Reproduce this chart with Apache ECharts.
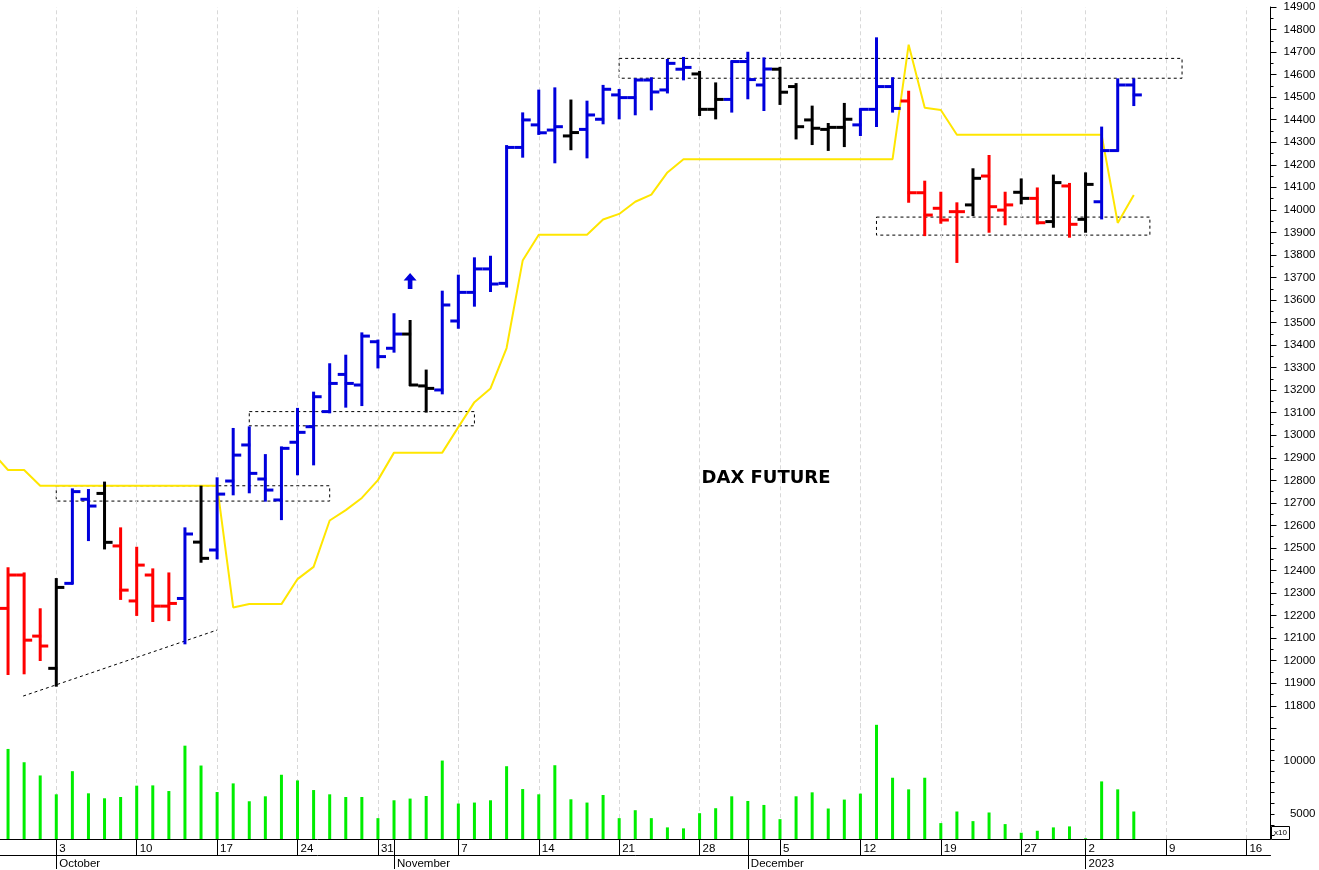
<!DOCTYPE html>
<html><head><meta charset="utf-8">
<script src="https://cdn.jsdelivr.net/npm/echarts@6/dist/echarts.min.js"></script>
<style>html,body{margin:0;padding:0;background:#fff;}#c{width:1319px;height:870px;}</style>
</head><body><div id="c"></div>
<script>
const dates = [
'2022-09-28','2022-09-29','2022-09-30',
'2022-10-03','2022-10-04','2022-10-05','2022-10-06','2022-10-07',
'2022-10-10','2022-10-11','2022-10-12','2022-10-13','2022-10-14',
'2022-10-17','2022-10-18','2022-10-19','2022-10-20','2022-10-21',
'2022-10-24','2022-10-25','2022-10-26','2022-10-27','2022-10-28',
'2022-10-31','2022-11-01','2022-11-02','2022-11-03','2022-11-04',
'2022-11-07','2022-11-08','2022-11-09','2022-11-10','2022-11-11',
'2022-11-14','2022-11-15','2022-11-16','2022-11-17','2022-11-18',
'2022-11-21','2022-11-22','2022-11-23','2022-11-24','2022-11-25',
'2022-11-28','2022-11-29','2022-11-30','2022-12-01','2022-12-02',
'2022-12-05','2022-12-06','2022-12-07','2022-12-08','2022-12-09',
'2022-12-12','2022-12-13','2022-12-14','2022-12-15','2022-12-16',
'2022-12-19','2022-12-20','2022-12-21','2022-12-22','2022-12-23',
'2022-12-27','2022-12-28','2022-12-29','2022-12-30',
'2023-01-02','2023-01-03','2023-01-04','2023-01-05','2023-01-06',
'2023-01-09','2023-01-10','2023-01-11','2023-01-12','2023-01-13',
'2023-01-16','2023-01-17'];

const opens  = [12232,12380,12109,11966,12343,12716,12742,12509,12265,12380,12242,12276,12526,12491,12797,12957,12806,12713,12969,13038,13105,13270,13223,13415,13386,13449,13219,13201,13507,13634,13738,13674,14277,14377,14354,14328,14357,14402,14510,14498,14576,14532,14624,14603,14446,14490,14658,14554,14624,14547,14399,14357,14366,14377,14446,14547,14483,14076,14007,13992,14022,14150,13999,14078,14051,13948,14106,13958,14036,14263,14554];
const highs  = [12410,12387,12228,12362,12760,12757,12790,12587,12501,12405,12387,12587,12772,12809,13028,13035,12912,12946,13117,13189,13315,13353,13452,13420,13537,13507,13287,13637,13708,13785,13792,14283,14428,14529,14539,14485,14480,14550,14532,14579,14584,14665,14674,14612,14561,14658,14697,14672,14630,14558,14458,14381,14470,14446,14761,14584,14524,14125,14076,14029,14180,14239,14076,14135,14095,14152,14115,14162,14365,14579,14579];
const lows   = [11941,11944,12003,11889,12343,12535,12498,12274,12203,12176,12180,12077,12439,12454,12738,12747,12710,12628,12827,12871,13102,13127,13134,13301,13371,13223,13105,13186,13477,13575,13640,13660,14236,14337,14211,14269,14233,14384,14406,14424,14446,14521,14579,14421,14406,14436,14495,14443,14470,14317,14292,14266,14283,14332,14372,14436,14036,13888,13943,13769,13977,13903,13936,14029,13940,13925,13881,13903,13962,14263,14465];
const closes = [12380,12091,12065,12325,12750,12686,12525,12313,12424,12242,12254,12562,12454,12739,12912,12831,12757,12942,13013,13171,13230,13230,13440,13349,13449,13223,13208,13578,13634,13738,13671,14277,14399,14342,14369,14343,14421,14535,14498,14576,14523,14650,14632,14446,14490,14658,14578,14625,14522,14369,14362,14366,14402,14446,14547,14450,14076,13977,13955,13992,14140,14014,14022,14051,13943,14121,13936,14113,14263,14554,14510];
const barColors = ['r','r','r','k','b','b','k','r','r','r','r','b','k','b','b','b','b','b','b','b','b','b','b','b','b','k','k','b','b','b','b','b','b','b','b','k','b','b','b','b','b','b','b','k','k','b','b','b','k','k','k','k','k','b','b','b','r','r','r','r','k','r','r','k','r','k','r','k','b','b','b'];
const volumes = [11084,9843,8611,6852,9010,6945,6482,6602,7658,7685,7158,11389,9537,7065,7871,6204,6667,8676,8148,7250,6852,6602,6602,4630,6296,6454,6695,10000,5991,6083,6296,9473,7343,6852,9565,6389,6083,6787,4630,5370,4630,3768,3676,5093,5556,6667,6232,5861,4537,6667,7037,5528,6361,6917,13334,8398,7315,8398,4167,5250,4352,5157,4074,3269,3454,3768,3861,2750,8056,7315,5250];
// stop line; first value belongs to the session before the first visible bar (2022-09-27)
const stopLinePrev = 12926;
const stopLine = [12846,12846,12776,12776,12776,12776,12776,12776,12776,12776,12776,12776,12776,12776,12236,12251,12251,12251,12362,12416,12622,12668,12722,12801,12923,12923,12923,12923,13036,13147,13208,13387,13775,13890,13890,13890,13890,13957,13982,14036,14068,14166,14225,14225,14225,14225,14225,14225,14225,14225,14225,14225,14225,14225,14225,14225,14733,14453,14443,14333,14333,14333,14333,14333,14333,14333,14333,14333,14333,13942,14066];

const weekTicks = ['2022-10-03','2022-10-10','2022-10-17','2022-10-24','2022-10-31','2022-11-07','2022-11-14','2022-11-21','2022-11-28','2022-12-05','2022-12-12','2022-12-19','2022-12-27','2023-01-02','2023-01-09','2023-01-16'];
const weekTickLabels = ['3','10','17','24','31','7','14','21','28','5','12','19','27','2','9','16'];
const monthTicks = ['2022-10-03','2022-11-01','2022-12-01','2023-01-02'];
const monthLabels = ['October','November','December','2023'];
const volumeTickValues = [3000,4000,5000,6000,7000,8000,9000,10000,11000,12000];
const volumeLabelValues = [5000,10000];

// dashed boxes: [from, to, top, bottom]
const boxes = [
  ['2022-10-03','2022-10-26',12776,12708],
  ['2022-10-19','2022-11-08',13105,13042],
  ['2022-11-21','2023-01-10',14672,14584],
  ['2022-12-13','2023-01-06',13968,13888]
];
// dotted support line, [day position, price]
const trendLine = [[0.94,11843],[13.0,12136]];
const arrowPoint = ['2022-11-02',13684];

const colorMap = {b:'#0000dc', r:'#ff0000', k:'#000000'};
const FONT = 'Liberation Sans';

function renderOHLC(params, api) {
  const idx = api.value(0);
  const o = api.coord([idx, api.value(1)]);
  const h = api.coord([idx, api.value(2)]);
  const l = api.coord([idx, api.value(3)]);
  const c = api.coord([idx, api.value(4)]);
  const w = api.size([1, 0])[0] * 0.5;
  const col = colorMap[barColors[params.dataIndex]];
  const st = {stroke: col, lineWidth: 3};
  return {type:'group', children:[
    {type:'line', shape:{x1:h[0], y1:h[1]-1, x2:l[0], y2:l[1]+1}, style: st},
    {type:'line', shape:{x1:o[0]-w, y1:o[1], x2:o[0]+1, y2:o[1]}, style: st},
    {type:'line', shape:{x1:c[0]-1, y1:c[1], x2:c[0]+w, y2:c[1]}, style: st}
  ]};
}

const chart = echarts.init(document.getElementById('c'), null, {renderer:'canvas'});
const gridLineStyle = {type:[4,3], color:'#d8d8d8', width:1};
const weekMarkLine = {silent:true, z:1, symbol:['none','none'], label:{show:false}, lineStyle:gridLineStyle,
  emphasis:{disabled:true}, data: weekTicks.map(d => ({xAxis: d}))};

const option = {
  animation:false,
  backgroundColor:'#ffffff',
  grid:[
    {left:0, right:48.5, top:7, height:721.3},
    {left:0, right:48.5, top:700, height:140}
  ],
  xAxis:[
    {type:'category', gridIndex:0, position:'bottom', data:dates, boundaryGap:true, show:false},
    {type:'value', gridIndex:0, position:'bottom', min:-0.5, max:78.5, show:false},
    {type:'category', gridIndex:1, position:'bottom', data:dates, boundaryGap:true,
      axisLine:{show:true, onZero:false, lineStyle:{color:'#000', width:1}},
      axisTick:{show:true, alignWithLabel:true, length:16, interval:(i,v)=>weekTicks.includes(v), lineStyle:{color:'#000'}},
      axisLabel:{show:true, interval:(i,v)=>weekTicks.includes(v), formatter:v=>weekTickLabels[weekTicks.indexOf(v)],
        align:'left', padding:[0,0,0,3], margin:4, color:'#000', fontSize:11.5, fontFamily:FONT},
      splitLine:{show:false}},
    {type:'category', gridIndex:1, position:'bottom', data:dates, boundaryGap:true,
      axisLine:{show:false, onZero:false},
      axisTick:{show:true, alignWithLabel:true, length:30, interval:(i,v)=>monthTicks.includes(v), lineStyle:{color:'#000'}},
      axisLabel:{show:true, interval:(i,v)=>monthTicks.includes(v), formatter:v=>monthLabels[monthTicks.indexOf(v)],
        align:'left', padding:[0,0,0,3], margin:19, color:'#000', fontSize:11.5, fontFamily:FONT},
      splitLine:{show:false}},
    {type:'category', gridIndex:1, position:'bottom', offset:16, data:dates, boundaryGap:true,
      axisLine:{show:true, onZero:false, lineStyle:{color:'#000', width:1}},
      axisTick:{show:false}, axisLabel:{show:false}, splitLine:{show:false}}
  ],
  yAxis:[
    {type:'value', gridIndex:0, position:'right', min:11700, max:14900, interval:100,
      axisLine:{show:true, onZero:false, lineStyle:{color:'#000'}},
      axisTick:{show:true, length:6, lineStyle:{color:'#000'}},
      minorTick:{show:true, splitNumber:2, length:3, lineStyle:{color:'#000'}},
      axisLabel:{align:'right', margin:45, fontSize:11.5, color:'#000', fontFamily:FONT,
        formatter:v => v >= 11800 ? String(v) : ''},
      splitLine:{show:false}},
    {type:'value', gridIndex:1, position:'right', min:2685, max:15648,
      axisLine:{show:true, onZero:false, lineStyle:{color:'#000'}},
      axisTick:{show:true, length:4, customValues:volumeTickValues, lineStyle:{color:'#000'}},
      axisLabel:{show:true, customValues:volumeLabelValues, align:'right', margin:45, fontSize:11.5, color:'#000', fontFamily:FONT,
        formatter:v => String(v)},
      splitLine:{show:false}}
  ],
  series:[
    {type:'line', name:'stop', xAxisIndex:1, yAxisIndex:0,
      data:[[-1, stopLinePrev]].concat(stopLine.map((v,i)=>[i,v])), showSymbol:false, symbol:'none',
      lineStyle:{color:'#ffe600', width:2}, z:2, silent:true, clip:true},
    {type:'line', name:'trend', xAxisIndex:1, yAxisIndex:0, data:trendLine, showSymbol:false, symbol:'none',
      lineStyle:{color:'#000', width:1, type:[3,3]}, z:2, silent:true},
    {type:'custom', name:'DAX', xAxisIndex:0, yAxisIndex:0, renderItem:renderOHLC,
      encode:{x:0, y:[1,2,3,4]}, z:3, silent:true,
      data: opens.map((o,i)=>[i, o, highs[i], lows[i], closes[i]]),
      markLine: weekMarkLine,
      markPoint:{silent:true, label:{show:false},
        data:[{coord:arrowPoint, symbol:'path://M7,0 L14,8 L9.5,8 L9.5,17 L4.5,17 L4.5,8 L0,8 Z', symbolSize:[13,16], itemStyle:{color:'#0000dc'}}]},
      markArea:{silent:true, label:{show:false},
        itemStyle:{color:'rgba(0,0,0,0)', borderColor:'#000', borderWidth:1, borderType:[3,3]},
        data: boxes.map(b => [{coord:[b[0], b[2]]}, {coord:[b[1], b[3]]}])}
    },
    {type:'bar', name:'volume', xAxisIndex:2, yAxisIndex:1, data:volumes, barWidth:3,
      itemStyle:{color:'#00ee00'}, silent:true, z:2, markLine: weekMarkLine}
  ],
  graphic:[
    {type:'text', x:766, y:478, style:{text:'DAX FUTURE', font:'bold 18px "DejaVu Sans"', fill:'#000', textAlign:'center', textVerticalAlign:'middle'}},
    {type:'rect', shape:{x:1271.5, y:826.5, width:18, height:13}, style:{fill:'#fff', stroke:'#000', lineWidth:1}},
    {type:'text', x:1280.5, y:833, style:{text:'x10', font:'8px "Liberation Sans"', fill:'#000', textAlign:'center', textVerticalAlign:'middle'}}
  ]
};
chart.setOption(option);
</script></body></html>
